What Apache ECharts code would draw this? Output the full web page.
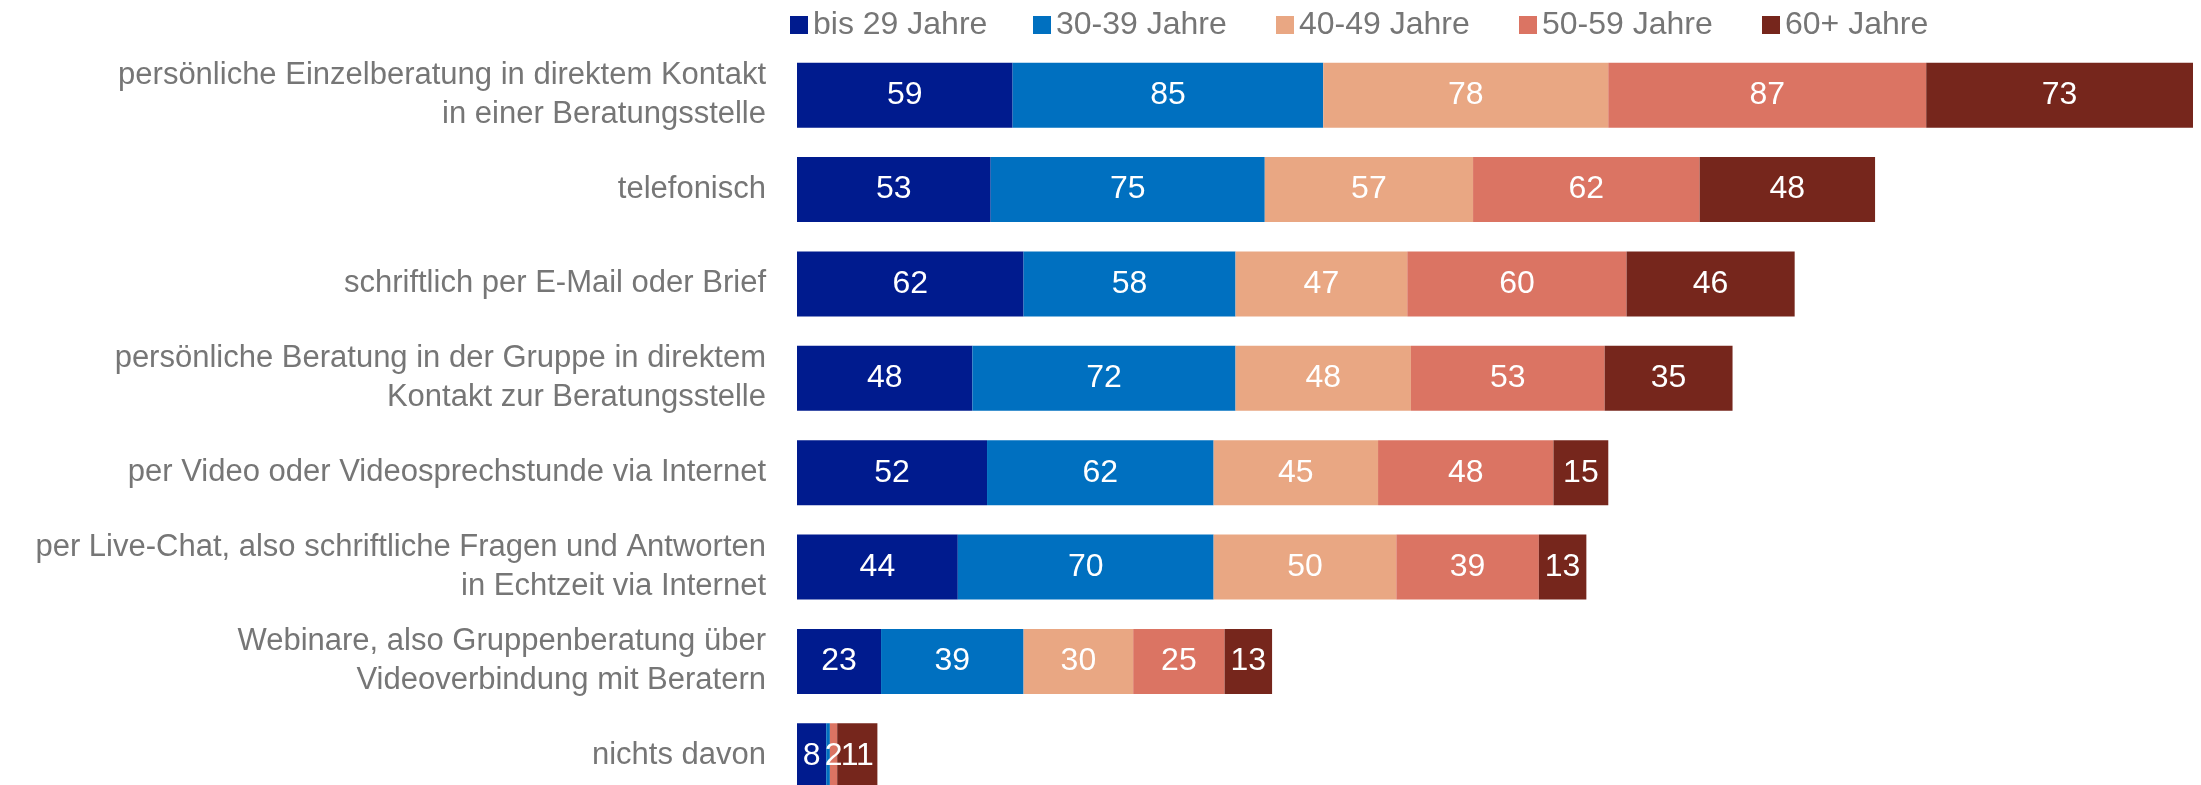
<!DOCTYPE html>
<html>
<head>
<meta charset="utf-8">
<script src="https://cdn.jsdelivr.net/npm/echarts@6/dist/echarts.min.js"></script>
<style>
  html, body { margin: 0; padding: 0; background: #ffffff; overflow: hidden; }
  #chart { width: 2201px; height: 803px; }
</style>
</head>
<body>
<div id="chart"></div>
<script>
// Beratungsformen, gestapelt nach Altersgruppe
const categories = [
  'persönliche Einzelberatung in direktem Kontakt\nin einer Beratungsstelle',
  'telefonisch',
  'schriftlich per E-Mail oder Brief',
  'persönliche Beratung in der Gruppe in direktem\nKontakt zur Beratungsstelle',
  'per Video oder Videosprechstunde via Internet',
  'per Live-Chat, also schriftliche Fragen und Antworten\nin Echtzeit via Internet',
  'Webinare, also Gruppenberatung über\nVideoverbindung mit Beratern',
  'nichts davon'
];
const seriesNames = ['bis 29 Jahre', '30-39 Jahre', '40-49 Jahre', '50-59 Jahre', '60+ Jahre'];
const bis29 = [59, 53, 62, 48, 52, 44, 23, 8];
const age30 = [85, 75, 58, 72, 62, 70, 39, 1];
const age40 = [78, 57, 47, 48, 45, 50, 30, 0];
const age50 = [87, 62, 60, 53, 48, 39, 25, 2];
const age60 = [73, 48, 46, 35, 15, 13, 13, 11];
const colors = ['#001B8E', '#0070C0', '#E9A783', '#DB7463', '#76261C'];

const values = [bis29, age30, age40, age50, age60];
const totals = categories.map((_, i) => values.reduce((s, arr) => s + arr[i], 0));
const maxTotal = Math.max(...totals);

const FONT = '"Liberation Sans", Arial, sans-serif';
const GRAY = '#767676';

const chart = echarts.init(document.getElementById('chart'), null, { renderer: 'canvas' });

// one legend block per age group, evenly spaced
const legends = seriesNames.map((name, k) => ({
  top: 9,
  left: 790 + k * 243,
  padding: 0,
  itemWidth: 18,
  itemHeight: 18,
  icon: 'rect',
  textStyle: { fontSize: 32, lineHeight: 18, color: GRAY, fontFamily: FONT },
  data: [name]
}));

chart.setOption({
  animation: false,
  color: colors,
  textStyle: { fontFamily: FONT },
  legend: legends,
  grid: { left: 797, right: 8, top: 48, bottom: 0, containLabel: false },
  xAxis: {
    type: 'value',
    min: 0,
    max: maxTotal,
    show: false
  },
  yAxis: {
    type: 'category',
    inverse: true,
    data: categories,
    axisLine: { show: false },
    axisTick: { show: false },
    splitLine: { show: false },
    axisLabel: {
      margin: 31,
      fontSize: 31,
      lineHeight: 39,
      color: GRAY,
      fontFamily: FONT,
      align: 'right'
    }
  },
  series: seriesNames.map((name, k) => ({
    name: name,
    type: 'bar',
    stack: 'total',
    barCategoryGap: '31%',
    data: values[k],
    itemStyle: { color: colors[k] },
    label: {
      show: true,
      position: 'inside',
      color: '#ffffff',
      fontSize: 32,
      fontFamily: FONT,
      formatter: p => (p.value >= 2 ? String(p.value) : '')
    }
  }))
});
</script>
</body>
</html>
